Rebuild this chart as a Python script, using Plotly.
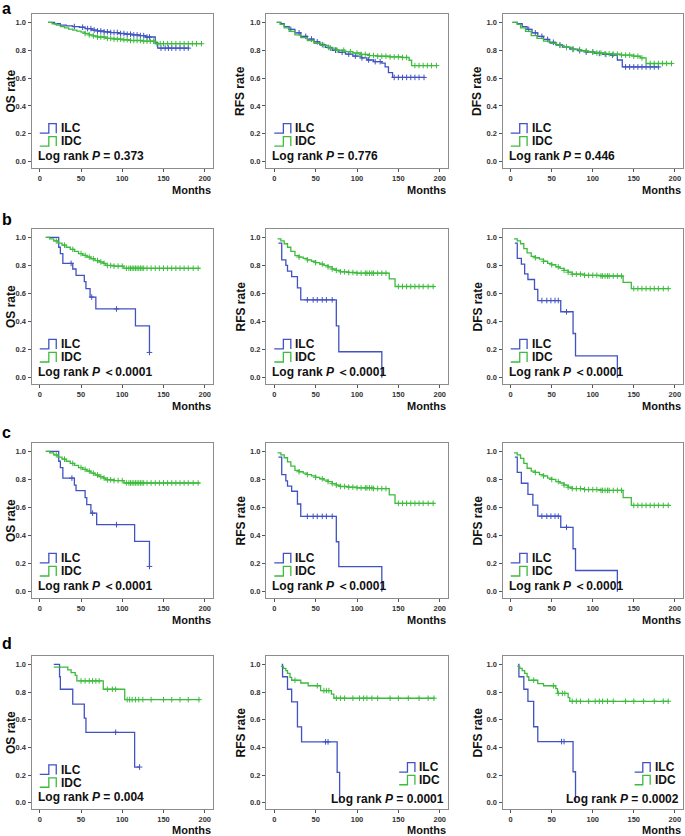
import plotly.graph_objects as go

W, H = 685, 836
BLUE = "#4152c2"
GREEN = "#3dbb3d"
FONT = "Liberation Sans, Arial, sans-serif"

# ---------------- data ----------------
# Row a
A_OS_ILC_T = [10, 18, 25, 32, 40, 48, 55, 63, 70, 78, 86, 95, 103, 112, 120, 128, 140, 143, 181]
A_OS_ILC_S = [1.0, 0.99, 0.98, 0.975, 0.97, 0.965, 0.955, 0.945, 0.938, 0.932, 0.927, 0.92, 0.915, 0.91, 0.905, 0.895, 0.855, 0.815, 0.815]
A_OS_ILC_C = [42, 52, 58, 62, 66, 70, 74, 78, 82, 86, 90, 94, 98, 102, 106, 110, 114, 118, 122, 126, 130, 133, 147, 152, 156, 160, 165, 170, 175, 180]
A_OS_IDC_T = [10, 15, 20, 25, 30, 35, 40, 45, 50, 55, 60, 65, 70, 80, 90, 100, 110, 125, 140, 197]
A_OS_IDC_S = [1.0, 0.99, 0.98, 0.97, 0.96, 0.952, 0.945, 0.937, 0.93, 0.92, 0.91, 0.902, 0.895, 0.885, 0.88, 0.875, 0.87, 0.865, 0.847, 0.847]
A_OS_IDC_C = [55, 60, 65, 70, 74, 78, 82, 86, 90, 94, 98, 102, 106, 110, 114, 118, 122, 126, 130, 134, 138, 142, 146, 150, 155, 160, 165, 170, 175, 180, 185, 190, 196]

A_RFS_ILC_T = [3, 8, 12, 18, 25, 32, 40, 48, 55, 62, 70, 78, 86, 95, 105, 112, 120, 130, 134, 138, 143, 182]
A_RFS_ILC_S = [1.0, 0.99, 0.97, 0.95, 0.925, 0.9, 0.88, 0.86, 0.84, 0.82, 0.80, 0.785, 0.772, 0.758, 0.745, 0.73, 0.718, 0.708, 0.68, 0.64, 0.605, 0.605]
A_RFS_ILC_C = [20, 30, 38, 45, 52, 58, 66, 74, 82, 90, 98, 106, 114, 122, 128, 145, 150, 155, 160, 165, 170, 175, 181]
A_RFS_IDC_T = [3, 7, 12, 18, 25, 32, 40, 48, 56, 65, 75, 85, 95, 105, 115, 125, 140, 155, 163, 166, 197]
A_RFS_IDC_S = [1.0, 0.985, 0.96, 0.935, 0.91, 0.89, 0.87, 0.85, 0.835, 0.815, 0.8, 0.79, 0.78, 0.77, 0.762, 0.757, 0.752, 0.748, 0.728, 0.69, 0.69]
A_RFS_IDC_C = [60, 68, 76, 84, 92, 100, 105, 110, 115, 120, 125, 130, 135, 140, 145, 150, 155, 160, 170, 175, 180, 185, 190, 196]

A_DFS_ILC_T = [2, 8, 14, 20, 26, 33, 40, 47, 55, 63, 72, 82, 92, 102, 112, 122, 130, 136, 181]
A_DFS_ILC_S = [1.0, 0.99, 0.97, 0.95, 0.925, 0.9, 0.878, 0.857, 0.838, 0.822, 0.808, 0.797, 0.787, 0.777, 0.77, 0.765, 0.73, 0.68, 0.68]
A_DFS_ILC_C = [22, 30, 38, 45, 52, 60, 68, 76, 84, 92, 100, 108, 116, 124, 140, 145, 150, 155, 160, 165, 170, 175, 180]
A_DFS_IDC_T = [2, 8, 12, 18, 25, 32, 40, 48, 56, 65, 75, 85, 95, 105, 115, 125, 135, 150, 158, 165, 197]
A_DFS_IDC_S = [1.0, 0.985, 0.96, 0.935, 0.905, 0.885, 0.865, 0.85, 0.835, 0.82, 0.805, 0.795, 0.787, 0.78, 0.775, 0.772, 0.765, 0.757, 0.745, 0.705, 0.705]
A_DFS_IDC_C = [60, 68, 76, 84, 92, 100, 105, 110, 115, 120, 125, 130, 135, 140, 145, 150, 155, 160, 170, 175, 180, 185, 190, 196]

# Row b
B_OS_ILC_T = [8, 23, 25, 28, 40, 44, 54, 56, 61, 68, 116, 133]
B_OS_ILC_S = [1.0, 0.93, 0.885, 0.815, 0.775, 0.73, 0.685, 0.635, 0.575, 0.49, 0.37, 0.18]
B_OS_ILC_C = [38, 63, 93, 133]
B_OS_IDC_T = [7, 12, 17, 22, 27, 32, 37, 42, 47, 52, 57, 62, 67, 72, 77, 80, 90, 102, 194]
B_OS_IDC_S = [1.0, 0.99, 0.975, 0.96, 0.945, 0.93, 0.915, 0.9, 0.885, 0.872, 0.86, 0.848, 0.835, 0.825, 0.815, 0.8, 0.795, 0.78, 0.78]
B_OS_IDC_C = [20, 30, 40, 50, 55, 60, 65, 70, 74, 78, 82, 86, 90, 95, 100, 105, 108, 110, 112, 114, 116, 118, 120, 122, 124, 126, 130, 135, 140, 145, 150, 155, 160, 165, 170, 175, 180, 186, 192]

B_RFS_ILC_T = [5, 9, 14, 16, 21, 28, 32, 75, 78, 130]
B_RFS_ILC_S = [0.96, 0.84, 0.80, 0.76, 0.72, 0.64, 0.555, 0.37, 0.185, 0.0]
B_RFS_ILC_C = [40, 47, 52, 58, 63, 70]
B_RFS_IDC_T = [4, 8, 12, 16, 20, 25, 30, 35, 40, 45, 50, 55, 60, 65, 70, 75, 80, 90, 100, 139, 146, 194]
B_RFS_IDC_S = [0.99, 0.975, 0.955, 0.93, 0.9, 0.87, 0.86, 0.85, 0.84, 0.83, 0.82, 0.81, 0.8, 0.79, 0.775, 0.765, 0.755, 0.75, 0.745, 0.705, 0.65, 0.65]
B_RFS_IDC_C = [30, 40, 50, 58, 65, 70, 75, 80, 85, 90, 95, 100, 105, 110, 112, 115, 118, 120, 125, 130, 135, 150, 155, 160, 165, 170, 175, 180, 186, 192]

B_DFS_ILC_T = [5, 8, 13, 17, 21, 29, 33, 61, 76, 79, 130]
B_DFS_ILC_S = [0.96, 0.85, 0.81, 0.74, 0.70, 0.63, 0.55, 0.47, 0.315, 0.155, 0.0]
B_DFS_ILC_C = [38, 44, 49, 54, 58, 68]
B_DFS_IDC_T = [4, 8, 12, 16, 20, 25, 30, 35, 40, 45, 50, 55, 60, 65, 70, 75, 90, 110, 137, 147, 193]
B_DFS_IDC_S = [0.99, 0.975, 0.955, 0.92, 0.89, 0.865, 0.855, 0.845, 0.83, 0.815, 0.805, 0.79, 0.78, 0.765, 0.752, 0.738, 0.73, 0.725, 0.68, 0.635, 0.635]
B_DFS_IDC_C = [30, 40, 50, 58, 65, 70, 75, 80, 85, 90, 95, 100, 105, 110, 112, 115, 118, 120, 125, 130, 135, 150, 155, 160, 165, 170, 175, 180, 186, 192]

# Row c
C_OS_ILC_T = [8, 23, 25, 28, 42, 44, 55, 57, 62, 69, 115, 133]
C_OS_ILC_S = [1.0, 0.93, 0.885, 0.81, 0.76, 0.72, 0.67, 0.62, 0.56, 0.478, 0.358, 0.18]
C_OS_ILC_C = [39, 64, 93, 133]
C_OS_IDC_T = [7, 12, 17, 22, 27, 32, 37, 42, 47, 52, 57, 62, 67, 72, 77, 80, 90, 102, 194]
C_OS_IDC_S = [1.0, 0.99, 0.975, 0.96, 0.945, 0.93, 0.915, 0.9, 0.885, 0.872, 0.86, 0.845, 0.832, 0.82, 0.81, 0.798, 0.792, 0.775, 0.775]
C_OS_IDC_C = [20, 30, 40, 50, 55, 60, 65, 70, 74, 78, 82, 86, 90, 95, 100, 105, 108, 110, 112, 114, 116, 118, 120, 122, 124, 126, 130, 135, 140, 145, 150, 155, 160, 165, 170, 175, 180, 186, 192]

C_RFS_ILC_T = [5, 9, 14, 16, 21, 28, 32, 75, 78, 130]
C_RFS_ILC_S = [0.96, 0.835, 0.79, 0.752, 0.716, 0.625, 0.537, 0.356, 0.178, 0.0]
C_RFS_ILC_C = [40, 47, 52, 58, 63, 70]
C_RFS_IDC_T = [4, 8, 12, 16, 20, 25, 30, 35, 40, 45, 50, 55, 60, 65, 70, 75, 80, 90, 100, 120, 139, 146, 194]
C_RFS_IDC_S = [0.99, 0.975, 0.955, 0.925, 0.895, 0.865, 0.855, 0.845, 0.835, 0.825, 0.815, 0.805, 0.795, 0.785, 0.77, 0.76, 0.75, 0.745, 0.74, 0.735, 0.69, 0.63, 0.63]
C_RFS_IDC_C = [30, 40, 50, 58, 65, 70, 75, 80, 85, 90, 95, 100, 105, 110, 112, 115, 118, 120, 125, 130, 135, 150, 155, 160, 165, 170, 175, 180, 186, 192]

C_DFS_ILC_T = [5, 8, 13, 21, 27, 33, 61, 76, 79, 130]
C_DFS_ILC_S = [0.96, 0.85, 0.773, 0.694, 0.617, 0.538, 0.459, 0.306, 0.151, 0.0]
C_DFS_ILC_C = [38, 44, 49, 54, 58, 68]
C_DFS_IDC_T = [4, 8, 12, 16, 20, 25, 30, 35, 40, 45, 50, 55, 60, 65, 70, 75, 90, 110, 137, 147, 194]
C_DFS_IDC_S = [0.99, 0.975, 0.95, 0.915, 0.88, 0.86, 0.85, 0.835, 0.825, 0.81, 0.8, 0.785, 0.775, 0.76, 0.745, 0.735, 0.728, 0.722, 0.67, 0.615, 0.615]
C_DFS_IDC_C = [30, 40, 50, 58, 65, 70, 75, 80, 85, 90, 95, 100, 105, 110, 112, 115, 118, 120, 125, 130, 135, 150, 155, 160, 165, 170, 175, 180, 186, 192]

# Row d
D_OS_ILC_T = [17, 24, 25, 40, 54, 56, 115, 121]
D_OS_ILC_S = [1.0, 0.91, 0.82, 0.713, 0.612, 0.509, 0.258, 0.258]
D_OS_ILC_C = [92, 121]
D_OS_IDC_T = [17, 34, 38, 43, 45, 77, 103, 194]
D_OS_IDC_S = [0.98, 0.96, 0.94, 0.92, 0.88, 0.82, 0.745, 0.745]
D_OS_IDC_C = [50, 55, 60, 64, 68, 72, 82, 88, 92, 106, 109, 112, 116, 120, 125, 135, 150, 160, 170, 180, 193]

D_RFS_ILC_T = [9, 10, 16, 21, 28, 33, 76, 79]
D_RFS_ILC_S = [1.0, 0.91, 0.82, 0.728, 0.548, 0.44, 0.219, 0.0]
D_RFS_ILC_C = [62, 65]
D_RFS_IDC_T = [8, 11, 14, 16, 19, 21, 32, 41, 56, 69, 72, 194]
D_RFS_IDC_S = [0.985, 0.97, 0.955, 0.935, 0.905, 0.885, 0.865, 0.845, 0.81, 0.785, 0.755, 0.755]
D_RFS_IDC_C = [25, 52, 60, 63, 66, 75, 80, 85, 95, 103, 108, 112, 118, 125, 140, 150, 162, 175, 186, 193]

D_DFS_ILC_T = [9, 10, 16, 21, 28, 33, 76, 79]
D_DFS_ILC_S = [1.0, 0.91, 0.82, 0.732, 0.549, 0.442, 0.224, 0.0]
D_DFS_ILC_C = [62, 65]
D_DFS_IDC_T = [8, 11, 14, 17, 20, 22, 33, 40, 55, 57, 70, 72, 193]
D_DFS_IDC_S = [0.985, 0.97, 0.955, 0.935, 0.91, 0.885, 0.86, 0.845, 0.825, 0.79, 0.76, 0.733, 0.733]
D_DFS_IDC_C = [28, 52, 58, 63, 66, 75, 80, 85, 95, 103, 108, 112, 118, 125, 140, 150, 162, 175, 186, 192]

Y_LABELS = ["OS rate", "RFS rate", "DFS rate"]
ROW_LETTERS = ["a", "b", "c", "d"]
P_TEXTS = ["= 0.373", "= 0.776", "= 0.446",
           "＜0.0001", "＜0.0001", "＜0.0001",
           "＜0.0001", "＜0.0001", "＜0.0001",
           "= 0.004", "= 0.0001", "= 0.0002"]
X_TICKS = [0, 50, 100, 150, 200]
Y_TICKS = [0.0, 0.2, 0.4, 0.6, 0.8, 1.0]
Y_TICKTEXT = ["0.0", "0.2", "0.4", "0.6", "0.8", "1.0"]

PANELS = [
    (A_OS_ILC_T, A_OS_ILC_S, A_OS_ILC_C, A_OS_IDC_T, A_OS_IDC_S, A_OS_IDC_C),
    (A_RFS_ILC_T, A_RFS_ILC_S, A_RFS_ILC_C, A_RFS_IDC_T, A_RFS_IDC_S, A_RFS_IDC_C),
    (A_DFS_ILC_T, A_DFS_ILC_S, A_DFS_ILC_C, A_DFS_IDC_T, A_DFS_IDC_S, A_DFS_IDC_C),
    (B_OS_ILC_T, B_OS_ILC_S, B_OS_ILC_C, B_OS_IDC_T, B_OS_IDC_S, B_OS_IDC_C),
    (B_RFS_ILC_T, B_RFS_ILC_S, B_RFS_ILC_C, B_RFS_IDC_T, B_RFS_IDC_S, B_RFS_IDC_C),
    (B_DFS_ILC_T, B_DFS_ILC_S, B_DFS_ILC_C, B_DFS_IDC_T, B_DFS_IDC_S, B_DFS_IDC_C),
    (C_OS_ILC_T, C_OS_ILC_S, C_OS_ILC_C, C_OS_IDC_T, C_OS_IDC_S, C_OS_IDC_C),
    (C_RFS_ILC_T, C_RFS_ILC_S, C_RFS_ILC_C, C_RFS_IDC_T, C_RFS_IDC_S, C_RFS_IDC_C),
    (C_DFS_ILC_T, C_DFS_ILC_S, C_DFS_ILC_C, C_DFS_IDC_T, C_DFS_IDC_S, C_DFS_IDC_C),
    (D_OS_ILC_T, D_OS_ILC_S, D_OS_ILC_C, D_OS_IDC_T, D_OS_IDC_S, D_OS_IDC_C),
    (D_RFS_ILC_T, D_RFS_ILC_S, D_RFS_ILC_C, D_RFS_IDC_T, D_RFS_IDC_S, D_RFS_IDC_C),
    (D_DFS_ILC_T, D_DFS_ILC_S, D_DFS_ILC_C, D_DFS_IDC_T, D_DFS_IDC_S, D_DFS_IDC_C),
]

# ---------------- layout geometry (pixels) ----------------
ROW_BOX = [(14, 168), (229, 384), (443, 598), (656, 809)]
COL_BOX = [(31.5, 213), (266, 448), (502.5, 683)]
YLAB_X = [10.5, 240, 477]
LETTER_Y = [9, 220, 432, 643]
MONTHS_Y = [190, 406, 620, 830]


def step_at(ts, ss, t):
    v = ss[0]
    for ti, si in zip(ts, ss):
        if ti <= t:
            v = si
    return v


fig = go.Figure()
shapes = []
annotations = []

for n, (it, isv, ic, dt, dsv, dc) in enumerate(PANELS, start=1):
    r, c = divmod(n - 1, 3)
    sfx = "" if n == 1 else str(n)
    xa, ya = "x" + sfx, "y" + sfx
    for ts, ss, cs, col in ((it, isv, ic, BLUE), (dt, dsv, dc, GREEN)):
        fig.add_trace(go.Scatter(x=ts, y=ss, mode="lines", line=dict(color=col, width=1.3, shape="hv"),
                                 xaxis=xa, yaxis=ya, showlegend=False, hoverinfo="skip"))
        fig.add_trace(go.Scatter(x=cs, y=[step_at(ts, ss, t) for t in cs], mode="markers",
                                 marker=dict(symbol="cross-thin", size=4, line=dict(color=col, width=1)),
                                 xaxis=xa, yaxis=ya, showlegend=False, hoverinfo="skip"))

    top, bot = ROW_BOX[r]
    left, right = COL_BOX[c]
    axcommon = dict(showline=True, mirror=True, linecolor="#8c8c8c", linewidth=1, showgrid=False,
                    zeroline=False, ticks="outside", ticklen=3, tickwidth=1, tickcolor="#555",
                    tickfont=dict(family=FONT, size=7.5, color="#333", weight="bold"))
    fig.layout["xaxis" + sfx] = dict(axcommon, domain=[left / W, right / W], range=[-10, 210],
                                     tickvals=X_TICKS, anchor=ya)
    fig.layout["yaxis" + sfx] = dict(axcommon, domain=[1 - bot / H, 1 - top / H], range=[-0.045, 1.06],
                                     tickvals=Y_TICKS, ticktext=Y_TICKTEXT, anchor=xa)

    # legend glyphs and text
    if n in (11, 12):
        lx0, lx1, lx2, tx = 151, 161, 170, 173
        y_ilc, y_idc = (0.222, 0.29), (0.13, 0.198)
        ptx, pty, panchor = 208, 0.03, "right"
    else:
        lx0, lx1, lx2, tx = 0, 11, 20, 23
        y_ilc, y_idc = (0.205, 0.273), (0.112, 0.18)
        ptx, pty, panchor = -5, 0.04, "left"
    for (yb, yt), col, lab in ((y_ilc, BLUE, "ILC"), (y_idc, GREEN, "IDC")):
        shapes.append(dict(type="path", xref=xa, yref=ya,
                           path=f"M {lx0},{yb} L {lx1},{yb} L {lx1},{yt} L {lx2},{yt} L {lx2},{yb}",
                           line=dict(color=col, width=1.3)))
        annotations.append(dict(xref=xa, yref=ya, x=tx, y=(yb + yt) / 2, text=f"<b>{lab}</b>",
                                showarrow=False, xanchor="left", yanchor="middle",
                                font=dict(family=FONT, size=12, color="#111")))
    annotations.append(dict(xref=xa, yref=ya, x=ptx, y=pty,
                            text=f"<b>Log rank <i>P</i> {P_TEXTS[n - 1]}</b>",
                            showarrow=False, xanchor=panchor, yanchor="middle",
                            font=dict(family=FONT, size=12, color="#111")))
    # Months label
    annotations.append(dict(xref="paper", yref="paper", x=right / W, y=1 - MONTHS_Y[r] / H,
                            text="<b>Months</b>", showarrow=False, xanchor="right", yanchor="middle",
                            font=dict(family=FONT, size=11, color="#111")))
    # y-axis title
    annotations.append(dict(xref="paper", yref="paper", x=YLAB_X[c] / W, y=1 - (top + bot) / 2 / H,
                            text=f"<b>{Y_LABELS[c]}</b>", textangle=-90, showarrow=False,
                            xanchor="center", yanchor="middle",
                            font=dict(family=FONT, size=12, color="#111")))

for r, letter in enumerate(ROW_LETTERS):
    annotations.append(dict(xref="paper", yref="paper", x=0, y=1 - LETTER_Y[r] / H, text=f"<b>{letter}</b>",
                            showarrow=False, xanchor="left", yanchor="middle",
                            font=dict(family=FONT, size=16, color="#000")))

fig.update_layout(width=W, height=H, margin=dict(l=0, r=0, t=0, b=0),
                  paper_bgcolor="white", plot_bgcolor="white",
                  shapes=shapes, annotations=annotations, showlegend=False)

fig.write_html("out.html", config={"displayModeBar": False},
               post_script="document.body.style.margin='0';document.body.style.overflow='hidden';")
